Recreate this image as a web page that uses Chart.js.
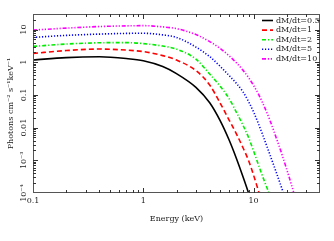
<!DOCTYPE html>
<html>
<head>
<meta charset="utf-8">
<script src="https://cdn.jsdelivr.net/npm/chart.js@4.4.1/dist/chart.umd.min.js"></script>
<style>
	html, body { margin: 0; padding: 0; background: #fff; }
	canvas { display: block; }
</style>
</head>
<body>
<canvas id="spec_chart" width="334" height="241"></canvas>
<script>
// Energy grid (keV) shared by all spectra
const energy = [0.1, 0.2, 0.4, 0.7, 1, 1.5, 2, 3, 4, 5, 6, 7, 8, 9, 10, 11, 12, 14, 16, 18, 20, 22, 25];

// Legend labels for each accretion rate
const rateLabels = ['dM/dt=0.5', 'dM/dt=1', 'dM/dt=2', 'dM/dt=5', 'dM/dt=10'];

// Photon flux (photons cm^-2 s^-1 keV^-1)
const flux05 = [1.17, 1.39, 1.47, 1.30, 1.11, 0.74, 0.45, 0.171, 0.0575, 0.0158, 0.00417, 0.00112, 3.2e-4, 1.0e-4, 3.2e-5, null, null, null, null, null, null, null, null];
const flux1 = [1.87, 2.28, 2.54, 2.36, 2.12, 1.60, 1.17, 0.557, 0.201, 0.0546, 0.0171, 0.00637, 0.00246, 9.9e-4, 3.5e-4, 1.24e-4, 4.9e-5, null, null, null, null, null, null];
const flux2 = [3.06, 3.61, 3.95, 4.0, 3.73, 3.13, 2.53, 1.25, 0.435, 0.180, 0.0776, 0.029, 0.0120, 0.00498, 0.00192, 7.7e-4, 3.4e-4, 8.7e-5, null, null, null, null, null];
const flux5 = [5.77, 6.65, 7.28, 7.65, 7.71, 6.88, 5.77, 2.92, 1.49, 0.74, 0.392, 0.224, 0.126, 0.063, 0.0302, 0.0138, 0.00646, 0.00155, 4.4e-4, 1.41e-4, 4.9e-5, null, null];
const flux10 = [9.66, 11.1, 12.4, 13.0, 13.2, 12.1, 10.7, 7.03, 4.30, 2.62, 1.57, 0.955, 0.575, 0.339, 0.195, 0.110, 0.0603, 0.0174, 0.0050, 0.00158, 5.2e-4, 1.82e-4, 4.0e-5];

// axis ranges / tick labels
const xMin = 0.1, xMax = 40;
const yMin = 1e-4, yMax = 30;
const xTickText = { '-1': '0.1', '0': '1', '1': '10' };
const yTickText = { '-4': '10\u207B\u2074', '-3': '10\u207B\u00B3', '-2': '0.01', '-1': '0.1', '0': '1', '1': '10' };

const fontFamily = "'DejaVu Serif', serif";
const textColor = '#222';
const frameColor = '#555';

// returns the exponent if value is a power of ten, otherwise null
function decade(v) {
	let lg = Math.log10(v);
	return Math.abs(lg - Math.round(lg)) < 1e-6 ? Math.round(lg) : null;
}

// y tick labels are rotated, so center them on x = 23.5 (needs the widest label width)
const meas = document.createElement('canvas').getContext('2d');
meas.font = `8px ${fontFamily}`;
const widestY = Math.max(...Object.values(yTickText).map((t) => meas.measureText(t).width));
const yTickPadding = 33 - 23.5 - widestY / 2;

// frame + inward tick marks on all four sides, like the original plot
const frameTicks = {
	id: 'frameTicks',
	afterDraw(chart) {
		const {ctx, chartArea: a, scales} = chart;
		ctx.save();
		ctx.strokeStyle = frameColor;
		ctx.lineWidth = 1;
		ctx.strokeRect(Math.round(a.left) + 0.5, Math.round(a.top) + 0.5, Math.round(a.right - a.left) - 1, Math.round(a.bottom - a.top) - 1);
		ctx.strokeStyle = '#333';
		ctx.beginPath();
		['x', 'y'].forEach((id) => {
			const scale = scales[id];
			scale.ticks.forEach((t) => {
				const v = t.value;
				if (v <= scale.min * 1.0001 || v >= scale.max * 0.9999) return;
				const mant = v / Math.pow(10, Math.floor(Math.log10(v) + 1e-9));
				if (Math.abs(mant - Math.round(mant)) > 1e-6) return; // skip the 1.5 ticks
				const len = decade(v) !== null ? 5 : 3;
				const p = Math.round(scale.getPixelForValue(v)) + 0.5;
				if (id === 'x') {
					ctx.moveTo(p, a.bottom); ctx.lineTo(p, a.bottom - len);
					ctx.moveTo(p, a.top); ctx.lineTo(p, a.top + len);
				} else {
					ctx.moveTo(a.left, p); ctx.lineTo(a.left + len, p);
					ctx.moveTo(a.right, p); ctx.lineTo(a.right - len, p);
				}
			});
		});
		ctx.stroke();
		ctx.restore();
	}
};

// legend in the top-right corner of the plot
const cornerLegend = {
	id: 'cornerLegend',
	afterDraw(chart) {
		const {ctx, chartArea: a} = chart;
		ctx.save();
		ctx.font = `8px ${fontFamily}`;
		ctx.textBaseline = 'middle';
		ctx.textAlign = 'left';
		chart.data.datasets.forEach((ds, i) => {
			let y = a.top + 6.5 + i * 9.6,
				xText = a.right - 44;
			ctx.strokeStyle = ds.borderColor;
			ctx.lineWidth = ds.borderWidth;
			ctx.setLineDash(ds.borderDash);
			ctx.beginPath();
			ctx.moveTo(xText - 14, y);
			ctx.lineTo(xText - 3, y);
			ctx.stroke();
			ctx.setLineDash([]);
			ctx.fillStyle = textColor;
			ctx.fillText(ds.label, xText, y);
		});
		ctx.restore();
	}
};

const series = [flux05, flux1, flux2, flux5, flux10];
const colors = ['#000000', '#ff0000', '#00ee00', '#0000ff', '#ff00ff'];
const dashes = [[], [5, 3], [4, 2, 1.2, 2], [1.2, 1.8], [4, 1.8, 1.2, 1.8, 1.2, 1.8, 1.2, 1.8]];

const ctx = document.getElementById('spec_chart');
new Chart(ctx, {
	type: 'line',
	data: {
		labels: energy,
		datasets: series.map((vals, i) => ({
			label: rateLabels[i],
			data: vals,
			borderColor: colors[i],
			borderDash: dashes[i],
			borderWidth: 1.6,
			pointRadius: 0,
			fill: false,
			cubicInterpolationMode: 'monotone'
		}))
	},
	options: {
		responsive: false,
		animation: false,
		devicePixelRatio: 1,
		layout: { padding: { top: 14, right: 14, left: 0, bottom: 0 } },
		scales: {
			x: {
				type: 'logarithmic',
				position: 'bottom',
				min: xMin,
				max: xMax,
				grid: { display: false, drawTicks: false },
				border: { display: false },
				ticks: {
					autoSkip: false,
					maxRotation: 0,
					padding: 3.5,
					color: textColor,
					font: { family: fontFamily, size: 8 },
					callback: (v) => {
						let d = decade(v);
						return d !== null && xTickText[d] ? xTickText[d] : '';
					}
				},
				title: {
					display: true,
					text: 'Energy (keV)',
					color: textColor,
					font: { family: fontFamily, size: 8 },
					padding: { top: 0, bottom: 17.2 }
				},
				afterFit: (scale) => { scale.height = 48; }
			},
			y: {
				type: 'logarithmic',
				position: 'left',
				min: yMin,
				max: yMax,
				grid: { display: false, drawTicks: false },
				border: { display: false },
				ticks: {
					autoSkip: false,
					minRotation: 90,
					maxRotation: 90,
					crossAlign: 'center',
					padding: yTickPadding,
					color: textColor,
					font: { family: fontFamily, size: 8 },
					callback: (v) => {
						let d = decade(v);
						return d !== null && yTickText[d] ? yTickText[d] : '';
					}
				},
				title: {
					display: true,
					text: 'Photons cm\u207B\u00B2 s\u207B\u00B9keV\u207B\u00B9',
					color: textColor,
					font: { family: fontFamily, size: 8 },
					padding: { top: 6, bottom: 0 }
				},
				afterFit: (scale) => { scale.width = 33; }
			}
		},
		plugins: {
			legend: { display: false },
			tooltip: { enabled: false }
		}
	},
	plugins: [frameTicks, cornerLegend]
});
</script>
</body>
</html>
